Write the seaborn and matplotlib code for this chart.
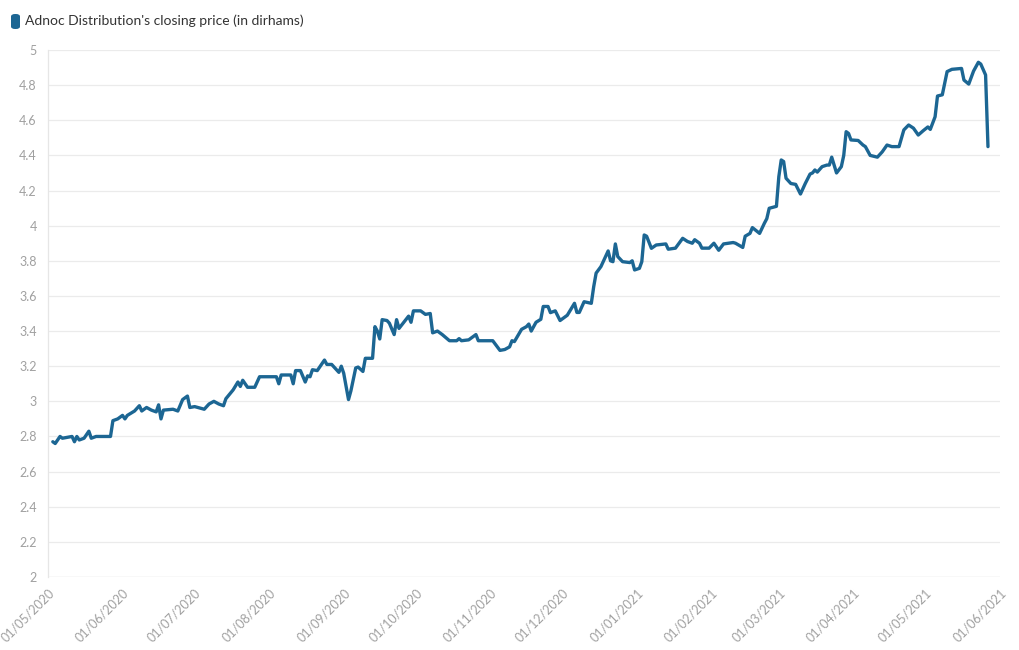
import matplotlib
matplotlib.use("Agg")
import matplotlib.pyplot as plt
import matplotlib.dates as mdates
from matplotlib.patches import FancyBboxPatch
import numpy as np
import pandas as pd
import seaborn as sns

# Closing prices (trading-day sample)
dates = [
    "2020-05-03", "2020-05-04", "2020-05-06", "2020-05-07", "2020-05-11", "2020-05-12",
    "2020-05-13", "2020-05-14", "2020-05-16", "2020-05-18", "2020-05-19", "2020-05-21",
    "2020-05-27", "2020-05-28", "2020-05-30", "2020-06-01", "2020-06-02", "2020-06-03",
    "2020-06-06", "2020-06-08", "2020-06-09", "2020-06-11", "2020-06-13", "2020-06-15",
    "2020-06-16", "2020-06-17", "2020-06-18", "2020-06-22", "2020-06-24", "2020-06-26",
    "2020-06-28", "2020-06-29", "2020-07-01", "2020-07-05", "2020-07-07", "2020-07-09",
    "2020-07-11", "2020-07-13", "2020-07-14", "2020-07-17", "2020-07-19", "2020-07-20",
    "2020-07-21", "2020-07-23", "2020-07-26", "2020-07-28", "2020-08-04", "2020-08-05",
    "2020-08-06", "2020-08-10", "2020-08-11", "2020-08-12", "2020-08-14", "2020-08-16",
    "2020-08-17", "2020-08-18", "2020-08-19", "2020-08-21", "2020-08-24", "2020-08-25",
    "2020-08-27", "2020-08-30", "2020-08-31", "2020-09-01", "2020-09-03", "2020-09-04",
    "2020-09-06", "2020-09-07", "2020-09-09", "2020-09-10", "2020-09-13", "2020-09-14",
    "2020-09-15", "2020-09-16", "2020-09-17", "2020-09-19", "2020-09-20", "2020-09-22",
    "2020-09-23", "2020-09-24", "2020-09-26", "2020-09-28", "2020-09-29", "2020-09-30",
    "2020-10-03", "2020-10-04", "2020-10-05", "2020-10-07", "2020-10-08", "2020-10-10",
    "2020-10-12", "2020-10-15", "2020-10-18", "2020-10-19", "2020-10-20", "2020-10-23",
    "2020-10-26", "2020-10-27", "2020-11-02", "2020-11-05", "2020-11-07", "2020-11-09",
    "2020-11-10", "2020-11-11", "2020-11-14", "2020-11-16", "2020-11-17", "2020-11-18",
    "2020-11-20", "2020-11-22", "2020-11-23", "2020-11-25", "2020-11-26", "2020-11-28",
    "2020-11-30", "2020-12-03", "2020-12-06", "2020-12-07", "2020-12-08", "2020-12-10",
    "2020-12-13", "2020-12-14", "2020-12-15", "2020-12-17", "2020-12-20", "2020-12-21",
    "2020-12-22", "2020-12-23", "2020-12-24", "2020-12-26", "2020-12-29", "2020-12-30",
    "2020-12-31", "2021-01-02", "2021-01-03", "2021-01-04", "2021-01-05", "2021-01-07",
    "2021-01-09", "2021-01-13", "2021-01-14", "2021-01-17", "2021-01-20", "2021-01-22",
    "2021-01-24", "2021-01-25", "2021-01-27", "2021-01-28", "2021-01-31", "2021-02-02",
    "2021-02-04", "2021-02-06", "2021-02-10", "2021-02-11", "2021-02-14", "2021-02-15",
    "2021-02-17", "2021-02-18", "2021-02-21", "2021-02-23", "2021-02-24", "2021-02-25",
    "2021-02-28", "2021-03-01", "2021-03-02", "2021-03-03", "2021-03-04", "2021-03-06",
    "2021-03-08", "2021-03-10", "2021-03-12", "2021-03-14", "2021-03-15", "2021-03-16",
    "2021-03-17", "2021-03-19", "2021-03-21", "2021-03-22", "2021-03-23", "2021-03-25",
    "2021-03-27", "2021-03-28", "2021-03-29", "2021-03-30", "2021-03-31", "2021-04-03",
    "2021-04-05", "2021-04-06", "2021-04-08", "2021-04-11", "2021-04-13", "2021-04-15",
    "2021-04-17", "2021-04-20", "2021-04-22", "2021-04-24", "2021-04-26", "2021-04-28",
    "2021-04-30", "2021-05-02", "2021-05-03", "2021-05-05", "2021-05-06", "2021-05-08",
    "2021-05-10", "2021-05-12", "2021-05-16", "2021-05-17", "2021-05-19", "2021-05-21",
    "2021-05-23", "2021-05-24", "2021-05-26", "2021-05-27",
]
prices = [
    2.77, 2.76, 2.80, 2.79, 2.80, 2.77,
    2.80, 2.78, 2.79, 2.83, 2.79, 2.80,
    2.80, 2.89, 2.90, 2.92, 2.90, 2.92,
    2.945, 2.975, 2.945, 2.965, 2.95, 2.94,
    2.98, 2.90, 2.95, 2.955, 2.945, 3.01,
    3.03, 2.965, 2.97, 2.955, 2.985, 3.00,
    2.985, 2.975, 3.015, 3.065, 3.11, 3.085,
    3.12, 3.08, 3.08, 3.14, 3.14, 3.10,
    3.15, 3.15, 3.10, 3.175, 3.175, 3.11,
    3.145, 3.14, 3.18, 3.175, 3.235, 3.21,
    3.21, 3.165, 3.20, 3.16, 3.01, 3.06,
    3.19, 3.195, 3.17, 3.245, 3.245, 3.425,
    3.40, 3.355, 3.465, 3.46, 3.445, 3.38,
    3.465, 3.415, 3.45, 3.485, 3.45, 3.515,
    3.515, 3.505, 3.495, 3.50, 3.39, 3.40,
    3.38, 3.345, 3.345, 3.357, 3.345, 3.35,
    3.38, 3.345, 3.345, 3.29, 3.295, 3.31,
    3.345, 3.34, 3.41, 3.425, 3.44, 3.40,
    3.45, 3.467, 3.54, 3.54, 3.505, 3.515,
    3.46, 3.49, 3.558, 3.506, 3.506, 3.567,
    3.558, 3.653, 3.73, 3.767, 3.856, 3.80,
    3.795, 3.896, 3.824, 3.795, 3.79, 3.80,
    3.748, 3.757, 3.795, 3.947, 3.94, 3.871,
    3.89, 3.896, 3.866, 3.872, 3.928, 3.91,
    3.90, 3.92, 3.90, 3.872, 3.872, 3.90,
    3.86, 3.896, 3.904, 3.90, 3.876, 3.94,
    3.956, 3.989, 3.956, 4.014, 4.04, 4.099,
    4.11, 4.279, 4.374, 4.365, 4.27, 4.24,
    4.235, 4.18, 4.24, 4.294, 4.30, 4.317,
    4.305, 4.336, 4.345, 4.345, 4.39, 4.30,
    4.336, 4.40, 4.535, 4.525, 4.488, 4.485,
    4.459, 4.45, 4.40, 4.39, 4.42, 4.459,
    4.45, 4.45, 4.545, 4.573, 4.555, 4.516,
    4.54, 4.562, 4.548, 4.62, 4.738, 4.745,
    4.877, 4.89, 4.895, 4.829, 4.806, 4.88,
    4.93, 4.92, 4.858, 4.45,
]
series_label = "Adnoc Distribution's closing price (in dirhams)"
y_ticks = [2, 2.2, 2.4, 2.6, 2.8, 3, 3.2, 3.4, 3.6, 3.8, 4, 4.2, 4.4, 4.6, 4.8, 5]

df = pd.DataFrame({"date": pd.to_datetime(dates), "price": prices})

sns.set_style("white")
plt.rcParams['font.family'] = ['Lato', 'DejaVu Sans']

line_color = '#1c6693'
grid_color = '#ebebeb'
label_color = '#a0a0a0'

fig = plt.figure(figsize=(10.2, 6.5), dpi=100)
ax = fig.add_axes([48 / 1020, 1 - 577 / 650, 952 / 1020, 527 / 650])

sns.lineplot(data=df, x="date", y="price", ax=ax, color=line_color, linewidth=2.4,
             solid_joinstyle='round', solid_capstyle='round')

ax.set_ylim(2, 5)
ax.set_xlim(pd.Timestamp("2020-05-01"), pd.Timestamp("2021-06-01"))
ax.set_yticks(y_ticks)
ax.set_yticklabels([f"{t:g}" for t in y_ticks])
ax.yaxis.grid(True, color=grid_color, linewidth=0.9)
ax.xaxis.grid(False)
ax.set_axisbelow(True)

ax.xaxis.set_major_locator(mdates.MonthLocator())
ax.xaxis.set_major_formatter(mdates.DateFormatter("%d/%m/%Y"))
ax.tick_params(axis='x', length=5, width=0.8, color='#e0e0e0', labelcolor=label_color,
               labelsize=9, pad=2)
ax.tick_params(axis='y', length=5, width=0.8, color='#e0e0e0', labelcolor=label_color,
               labelsize=9, pad=3)
for lbl in ax.get_xticklabels():
    lbl.set_rotation(45)
    lbl.set_ha('right')
    lbl.set_va('top')
    lbl.set_rotation_mode('anchor')

for side in ['top', 'right', 'bottom']:
    ax.spines[side].set_visible(False)
ax.spines['left'].set_color('#e6e6e6')
ax.spines['left'].set_linewidth(0.9)
ax.axhline(2, color='#e6e6e6', linewidth=0.9, zorder=0)

ax.set_xlabel("")
ax.set_ylabel("")

# legend swatch + text at the top-left
swatch = FancyBboxPatch((11 / 1020, 1 - 29 / 650), 9 / 1020, 15 / 650,
                        boxstyle="round,pad=0,rounding_size=0.004",
                        transform=fig.transFigure, facecolor=line_color,
                        edgecolor='none')
fig.patches.append(swatch)
fig.text(25 / 1020, 1 - 21 / 650, series_label, fontsize=10, color='#333333',
         va='center', ha='left')

fig.savefig("out.png", dpi=100)
